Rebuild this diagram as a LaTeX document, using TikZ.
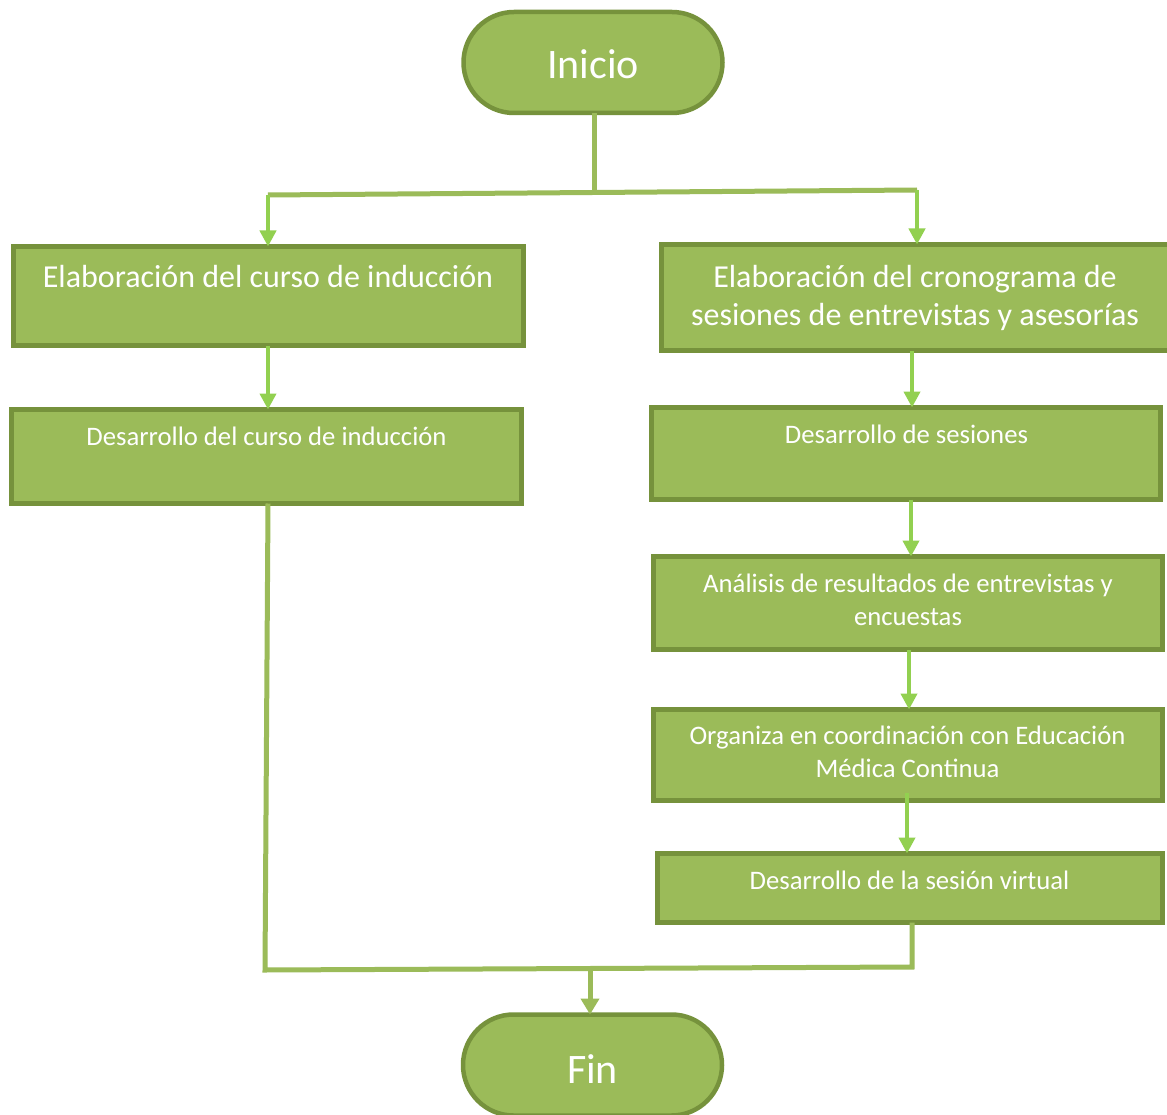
\documentclass[tikz,border=0pt]{standalone}
\usepackage{fontspec}
\setmainfont{Carlito}
\usetikzlibrary{arrows.meta,shapes.misc}
\definecolor{boxfill}{HTML}{9BBB59}
\definecolor{boxline}{HTML}{76923C}
\definecolor{arrowgreen}{HTML}{92D050}
\begin{document}
\begin{tikzpicture}[x=1pt,y=-1pt,
  stepbox/.style={rectangle, draw=boxline, fill=boxfill, line width=5pt, inner sep=0pt, outer sep=0pt},
  term/.style={rounded rectangle, draw=boxline, fill=boxfill, line width=4.5pt, inner sep=0pt, outer sep=0pt,
    minimum width=259pt, minimum height=101pt},
  boxtext/.style={text=white, align=center, inner sep=0pt, anchor=base, font=\fontsize{26.7}{33}\selectfont},
  bigtext/.style={boxtext, font=\fontsize{32}{39}\selectfont},
  termtext/.style={text=white, inner sep=0pt, anchor=base, font=\fontsize{42}{48}\selectfont},
  link/.style={draw=boxfill, line width=5pt},
  linkarrow/.style={link, -{Triangle[length=16pt,width=18pt]}},
  flow/.style={draw=arrowgreen, line width=4pt, -{Triangle[length=16pt,width=16pt]}},
]
\useasboundingbox[fill=white] (0,0) rectangle (1167,1115);

% terminals
\node[term] (ini) at (593,62.5) {};
\node[termtext] (init) at (593,79) {Inicio};
\node[term] (fin) at (592.5,1065) {};
\node[termtext] (fint) at (592.5,1083) {Fin};

% left column
\node[stepbox, minimum width=510pt, minimum height=99pt] (b1) at (268.5,296) {};
\node[bigtext] (b1t) at (268,288) {Elaboración del curso de inducción};
\node[stepbox, minimum width=510pt, minimum height=94pt] (b2) at (266.5,456.5) {};
\node[boxtext] (b2t) at (266.5,445) {Desarrollo del curso de inducción};

% right column
\node[stepbox, minimum width=510pt, minimum height=106pt] (r1) at (916.5,297.5) {};
\node[bigtext] (r1t) at (915,326) {Elaboración del cronograma de\\sesiones de entrevistas y asesorías};
\node[stepbox, minimum width=509pt, minimum height=92pt] (r2) at (906,453.5) {};
\node[boxtext] (r2t) at (906.5,443) {Desarrollo de sesiones};
\node[stepbox, minimum width=509pt, minimum height=93pt] (r3) at (908,603) {};
\node[boxtext] (r3t) at (908,625) {Análisis de resultados de entrevistas y\\encuestas};
\node[stepbox, minimum width=509pt, minimum height=91pt] (r4) at (908,755) {};
\node[boxtext] (r4t) at (907.5,777) {Organiza en coordinación con Educación\\Médica Continua};
\node[stepbox, minimum width=505pt, minimum height=69pt] (r5) at (910,888) {};
\node[boxtext] (r5t) at (909.5,889) {Desarrollo de la sesión virtual};

% split from Inicio
\coordinate (hm) at (594,192);
\coordinate (hl) at (268,195);
\coordinate (hr) at (917,190);
\draw[link] (ini.south -| hm) -- (hm);
\draw[link] (hl) -- (hr);
\draw[flow] (hl) -- (hl |- b1.north);
\draw[flow] (hr) -- (hr |- r1.north);

% left chain
\draw[flow] ([xshift=-0.5pt]b1.south) -- ([xshift=-0.5pt]b1.south |- b2.north);

% right chain
\draw[flow] ([xshift=-4.5pt]r1.south) -- ([xshift=-4.5pt]r1.south |- r2.north);
\draw[flow] ([xshift=5pt]r2.south) -- ([xshift=5pt]r2.south |- r3.north);
\draw[flow] ([xshift=1pt]r3.south) -- ([xshift=1pt]r3.south |- r4.north);
\draw[flow] ([xshift=-1pt,yshift=8pt]r4.south) -- ([xshift=-1pt]r4.south |- r5.north);

% merge to Fin
\coordinate (bl) at (265,970);
\coordinate (br) at (912,967);
\coordinate (bm) at (590,969);
\draw[link] ([xshift=1.5pt]b2.south) -- (bl) -- (br) -- (br |- r5.south);
\draw[linkarrow] (bm) -- (bm |- fin.north);
\end{tikzpicture}
\end{document}
